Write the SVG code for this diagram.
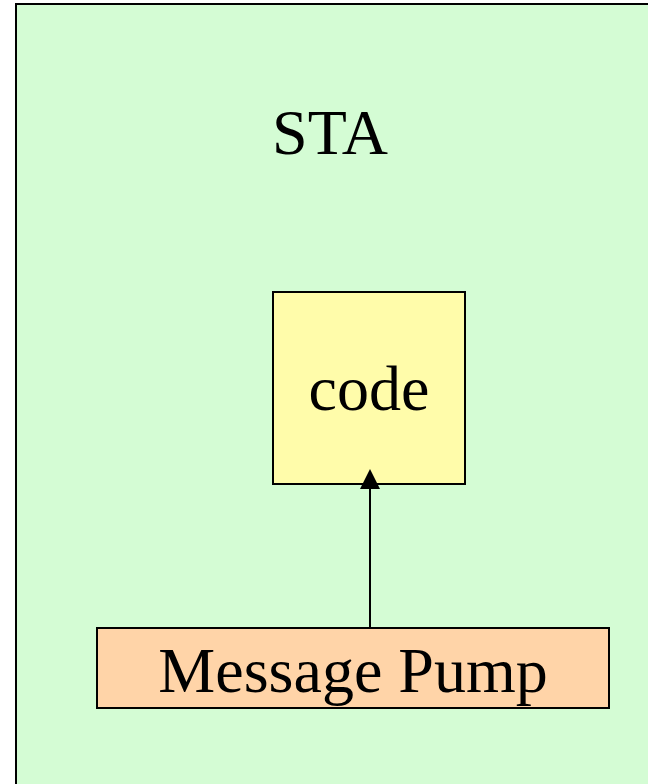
<svg xmlns="http://www.w3.org/2000/svg" width="648" height="784" viewBox="0 0 648 784">
  <defs>
    <style>
      .lbl { font-family: "Liberation Serif", "Times New Roman", serif; font-size: 64px; fill: #000; text-anchor: middle; }
      .box { stroke: #000; stroke-width: 2; }
      .wire { stroke: #000; stroke-width: 2; fill: none; }
    </style>
    <marker id="arrow" markerWidth="10" markerHeight="10" refX="10" refY="5" orient="auto" markerUnits="userSpaceOnUse" viewBox="0 0 10 10">
      <path d="M0,0 L10,5 L0,10 Z" fill="#000"/>
    </marker>
  </defs>
  <rect width="648" height="784" fill="#fff"/>

  <!-- apartment container -->
  <g id="sta">
    <rect class="box" x="16" y="4" width="660" height="800" fill="#D4FCD4"/>
    <text class="lbl" x="330" y="154">STA</text>
  </g>

  <g id="code">
    <rect class="box" x="273" y="292" width="192" height="192" fill="#FFFCAA"/>
    <text class="lbl" x="369" y="410">code</text>
  </g>

  <g id="message-pump">
    <rect class="box" x="97" y="628" width="512" height="80" fill="#FFD4A8"/>
    <text class="lbl" x="353" y="692">Message Pump</text>
  </g>

  <g id="connectors">
    <line class="wire" x1="370" y1="628" x2="370" y2="488"/>
    <path d="M370,469 L380,489 L360,489 Z" fill="#000"/>
  </g>
</svg>
